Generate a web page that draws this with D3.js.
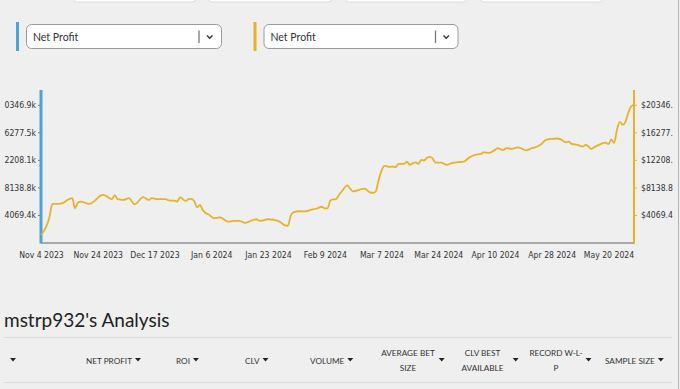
<!DOCTYPE html>
<html><head><meta charset="utf-8">
<script src="https://cdn.jsdelivr.net/npm/d3@7"></script>
<style>
html,body{margin:0;padding:0;background:#efefef;}
svg{display:block;}
</style></head>
<body>
<svg id="c" width="680" height="389"></svg>
<script>
// ---- data ----
const pointIndex = [0,3,4,6,8,10,11,12,13,14,17,19,21,22,25,26,27,29,31,33,36,38,39,41,44,45,47,48,49,51,52,53,54,55,56,57,58,59,61,63,66,68,70,71,72,74,76,77,80,82,84,85,86,87,88,89,91,93,95,97,99,100,101,102,103,104,105,106,108,109,110,112,114,116,117,118,119,120,121,123,124,125,126,128,129,130,131,132,133,134,135,136,137,138,139,141,143,145,147,149,151,153,155,156,158,160,161,162,163,164,166,168,170,171,173,175,176,178,180,182,183,185,186,187,189,191,192,193,194,195,197,199,200,201,202,203,204,205,206,207,208,209];
const netProfit = [1110,3774,5697,5697,5890,6437,6541,5061,5890,6038,5697,6186,6926,7029,6394,6985,6394,6290,6541,5654,6690,6290,6541,6394,6394,6216,6186,6038,6690,6141,6394,6437,6100,5200,5550,4810,4365,4173,3581,3700,3078,3182,3182,3034,2886,3226,3433,3182,3433,3360,3108,2812,2516,2471,3922,4440,4617,4588,4809,4987,5283,5031,5061,6215,6363,6393,7029,7547,8435,7917,7547,7769,7961,7399,7325,7547,9249,10581,11320,11172,11217,11128,11616,11616,11950,11480,11690,11838,11616,12208,12104,12504,12652,12430,11809,11809,11468,11764,11868,11957,12578,12948,13096,13318,13244,13688,13940,13762,13688,13940,13836,14058,13762,13614,13940,14177,14428,15168,15316,15361,15272,14798,14902,14576,14428,14177,14428,14162,13836,14088,14502,14768,14532,15242,14724,16648,17832,17388,17832,19163,20125,20346.9];
const xTickIndex = [0,20,40,60,80,100,120,140,160,180,200];
const xTickLabels = ["Nov 4 2023","Nov 24 2023","Dec 17 2023","Jan 6 2024","Jan 23 2024","Feb 9 2024","Mar 7 2024","Mar 24 2024","Apr 10 2024","Apr 28 2024","May 20 2024"];
const yTickValues = [4069.4,8138.8,12208.1,16277.5,20346.9];
const leftTickLabels = ["4069.4k","8138.8k","12208.1k","16277.5k","20346.9k"];
const rightTickLabels = ["$4069.4","$8138.8","$12208.1","$16277.5","$20346.9"];
const dropdownLabels = ["Net Profit","Net Profit"];
const tableHeaders = [["NET PROFIT"],["ROI"],["CLV"],["VOLUME"],["AVERAGE BET","SIZE"],["CLV BEST","AVAILABLE"],["RECORD W-L-","P"],["SAMPLE SIZE"]];
const title = "mstrp932's Analysis";

const blue = "#4da2d6", gold = "#e8b22a";
const svg = d3.select("#c");

// top partial boxes
[[73,196],[208,332],[345,467],[480,603]].forEach(([a,b])=>{
  svg.append("rect").attr("x",a).attr("y",-10).attr("width",b-a).attr("height",12)
    .attr("rx",4).attr("fill","#fff").attr("stroke","#dcdcdc");
});
// right edge line
svg.append("line").attr("x1",678.5).attr("x2",678.5).attr("y1",0).attr("y2",389)
  .attr("stroke","#b5b5b5").attr("stroke-width",1);

// dropdowns
const dd = [{bar:16,x:26,w:195,color:blue},{bar:253.5,x:263.5,w:194,color:gold}];
dd.forEach((d,i)=>{
  svg.append("rect").attr("x",d.bar).attr("y",22).attr("width",3).attr("height",29).attr("fill",d.color);
  svg.append("rect").attr("x",d.x+0.5).attr("y",24.5).attr("width",d.w).attr("height",24)
    .attr("rx",5).attr("fill","#fff").attr("stroke","#9a9a9a").attr("stroke-width",1);
  svg.append("text").attr("x",d.x+7).attr("y",40.5).text(dropdownLabels[i])
    .attr("font-family","Lato").attr("font-size",10.5).attr("fill","#333");
  const sx = d.x + d.w - 22;
  svg.append("line").attr("x1",sx).attr("x2",sx).attr("y1",30.5).attr("y2",43)
    .attr("stroke","#777").attr("stroke-width",1.3);
  svg.append("path").attr("d",`M${sx+8},35.5 L${sx+10.7},38.3 L${sx+13.4},35.5`)
    .attr("fill","none").attr("stroke","#333").attr("stroke-width",1.4);
});

// chart
const x = d3.scaleLinear().domain([0,209]).range([41,634]);
const y = d3.scaleLinear().domain([0,20346.9*1.1]).range([242.5,91]);

svg.append("defs").append("clipPath").attr("id","clipR")
  .append("rect").attr("x",4).attr("y",0).attr("width",669).attr("height",389);

const tickFont = "'DejaVu Sans Condensed', 'DejaVu Sans', sans-serif";

// bottom axis
const xAxis = d3.axisBottom(x).tickValues(xTickIndex).tickSize(0).tickPadding(9)
  .tickFormat((d,i)=>xTickLabels[i]);
const gx = svg.append("g").attr("transform","translate(0,242.5)").call(xAxis);
gx.select(".domain").attr("stroke","#a8a8a8").attr("stroke-width",2);
gx.selectAll("text").attr("font-family",tickFont).attr("font-size",8.6).attr("fill","#333");

// left axis
const gl = svg.append("g").attr("clip-path","url(#clipR)").append("g").attr("transform","translate(41,0)")
  .call(d3.axisLeft(y).tickValues(yTickValues).tickSize(3).tickPadding(2).tickFormat((d,i)=>leftTickLabels[i]));
gl.select(".domain").remove();
gl.selectAll("line").attr("stroke","#777");
gl.selectAll("text").attr("font-family",tickFont).attr("font-size",8.6).attr("fill","#333");

// right axis
const gr = svg.append("g").attr("clip-path","url(#clipR)").append("g").attr("transform","translate(634,0)")
  .call(d3.axisRight(y).tickValues(yTickValues).tickSize(3).tickPadding(4).tickFormat((d,i)=>rightTickLabels[i]));
gr.select(".domain").remove();
gr.selectAll("line").attr("stroke",gold);
gr.selectAll("text").attr("font-family",tickFont).attr("font-size",8.6).attr("fill","#333");

// axis lines
svg.append("line").attr("x1",x(0)).attr("x2",x(0)).attr("y1",y.range()[1]-1).attr("y2",243.5)
  .attr("stroke",blue).attr("stroke-width",3);
svg.append("line").attr("x1",x(209)).attr("x2",x(209)).attr("y1",y.range()[1]-1).attr("y2",243.5)
  .attr("stroke",gold).attr("stroke-width",2);

// line
const data = pointIndex.map((p,i)=>({p, v:netProfit[i]}));
svg.append("path").datum(data)
  .attr("d", d3.line().x(d=>x(d.p)).y(d=>y(d.v)).curve(d3.curveMonotoneX))
  .attr("fill","none").attr("stroke",gold).attr("stroke-width",1.8);

// title
svg.append("text").attr("x",4).attr("y",327).text(title)
  .attr("font-family","Lato").attr("font-size",19).attr("fill","#222");
svg.append("line").attr("x1",4).attr("x2",672).attr("y1",337.5).attr("y2",337.5).attr("stroke","#dcdcdc");
svg.append("line").attr("x1",4).attr("x2",672).attr("y1",382.5).attr("y2",382.5).attr("stroke","#dcdcdc");

// table header
const hf = {family:"Lato", size:8.2, color:"#333"};
function arrow(xp, yp){
  svg.append("path").attr("d",`M${xp-3},${yp-2} L${xp+3},${yp-2} L${xp},${yp+1.5} Z`).attr("fill","#222");
}
arrow(13, 360);
const single = [[0,86],[1,176],[2,245],[3,310],[7,605]];
single.forEach(([i,sx])=>{
  const t = svg.append("text").attr("x",sx).attr("y",363.5).text(tableHeaders[i][0])
    .attr("font-family",hf.family).attr("font-size",hf.size).attr("fill",hf.color);
  const w = t.node().getComputedTextLength();
  arrow(sx+w+6, 360);
});
const dbl = [[4,408,441.7],[5,482.5,515.7],[6,556,588.5]];
dbl.forEach(([i,cx,ax])=>{
  tableHeaders[i].forEach((s,j)=>{
    svg.append("text").attr("x",cx).attr("y",356+j*15).attr("text-anchor","middle").text(s)
      .attr("font-family",hf.family).attr("font-size",hf.size).attr("fill",hf.color);
  });
  arrow(ax, 360);
});
</script>
</body></html>
